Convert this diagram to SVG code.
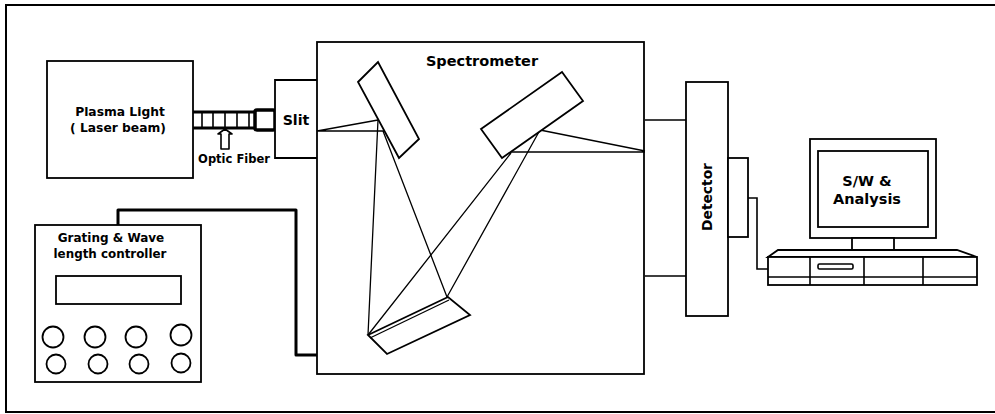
<svg xmlns="http://www.w3.org/2000/svg" width="995" height="414" viewBox="0 0 995 414">
  <style>
    .box { fill: #fff; stroke: #000; stroke-width: 1.8; }
    .ln { fill: none; stroke: #000; stroke-width: 1.6; }
    .ray { fill: none; stroke: #000; stroke-width: 1.3; }
    .thick { fill: none; stroke: #000; stroke-width: 3; stroke-linejoin: round; }
    .lbl { font-family: "DejaVu Sans", "Liberation Sans", sans-serif; font-weight: bold; fill: #000; text-anchor: middle; }
  </style>
  <rect width="995" height="414" fill="#fff"/>
  <!-- outer frame -->
  <rect x="6" y="5" width="1000" height="407" fill="none" stroke="#000" stroke-width="2"/>

  <g id="connectors">
    <!-- optic fiber -->
    <line class="thick" x1="193" y1="112" x2="256" y2="112" stroke-width="2.6"/>
    <line class="thick" x1="193" y1="128" x2="256" y2="128" stroke-width="2.6"/>
    <path class="ln" d="M202,112V128M213,112V128M225,112V128M237,112V128M249,112V128"/>
    <rect x="255" y="110" width="20" height="20" rx="2" fill="#fff" stroke="#000" stroke-width="3.5"/>
    <!-- controller to spectrometer -->
    <path class="thick" d="M118,225V210H296V355H318"/>
    <!-- spectrometer to detector -->
    <path class="ln" d="M645,120H686M645,276H686"/>
    <!-- detector to computer -->
    <path class="ln" d="M748,198H757V269H768"/>
  </g>

  <g id="plasma-light">
    <rect class="box" x="47" y="61" width="146" height="117"/>
    <text class="lbl" x="120" y="116" font-size="12.3">Plasma Light</text>
    <text class="lbl" x="118" y="132" font-size="12.3">( Laser beam)</text>
  </g>

  <g id="optic-fiber-label">
    <path class="ln" stroke-width="1.4" stroke-linejoin="round" d="M225,129L232,134H229V149H221V134H218Z" fill="#fff"/>
    <text class="lbl" x="234" y="163" font-size="11.5">Optic Fiber</text>
  </g>

  <g id="slit">
    <path class="box" d="M317,80H275V158H317"/>
    <text class="lbl" x="296" y="125" font-size="14.2">Slit</text>
  </g>

  <g id="spectrometer">
    <rect class="box" x="317" y="42" width="327" height="332"/>
    <text class="lbl" x="482" y="66" font-size="14.5">Spectrometer</text>
    <!-- beam path -->
    <path class="ray" d="M317,131L378,120M317,131L384,131"/>
    <path class="ray" d="M378,120L368,335M383,131L447,297"/>
    <path class="ray" d="M368,335L511,153M447,297L540,130"/>
    <path class="ray" d="M540,130L645,151M511,152L645,152"/>
    <!-- collimating mirror -->
    <polygon class="box" points="358,82 378,62 419,139 399,158"/>
    <!-- focusing mirror -->
    <polygon class="box" points="481,129 562,72 583,101 502,158"/>
    <!-- grating -->
    <polygon class="box" stroke-width="1.6" points="368,335 448,297 470,315 387,354"/>
    <line class="ray" x1="370" y1="338" x2="449" y2="300"/>
  </g>

  <g id="detector">
    <rect class="box" x="686" y="82" width="42" height="234"/>
    <text class="lbl" font-size="13.8" transform="translate(712,197) rotate(-90)">Detector</text>
    <rect class="box" x="728" y="158" width="20" height="79"/>
  </g>

  <g id="controller">
    <rect class="box" x="35" y="225" width="166" height="157"/>
    <text class="lbl" x="111" y="242" font-size="12">Grating &amp; Wave</text>
    <text class="lbl" x="110" y="258" font-size="11.9">length controller</text>
    <rect class="box" x="56" y="276" width="125" height="28"/>
    <g class="box" stroke-width="1.6">
      <circle cx="53" cy="337" r="10.5"/>
      <circle cx="95" cy="337" r="10.5"/>
      <circle cx="136" cy="337" r="10.5"/>
      <circle cx="181" cy="335" r="10.5"/>
      <circle cx="56" cy="364" r="9.5"/>
      <circle cx="98" cy="364" r="9.5"/>
      <circle cx="139" cy="364" r="9.5"/>
      <circle cx="181" cy="363" r="9.5"/>
    </g>
  </g>

  <g id="computer">
    <rect class="box" x="810" y="139" width="126" height="99"/>
    <rect class="box" x="818" y="151" width="110" height="76"/>
    <text class="lbl" x="867" y="186" font-size="14.5">S/W &amp;</text>
    <text class="lbl" x="867" y="204" font-size="14.5">Analysis</text>
    <rect class="box" x="852" y="238" width="42" height="12"/>
    <path class="box" d="M768,257L778,250H957L977,257Z"/>
    <rect class="box" x="768" y="257" width="209" height="28"/>
    <path class="ln" d="M768,277H977M810,257V285M864,257V285M923,257V285"/>
    <rect class="ln" x="818" y="264" width="35" height="5" rx="1.5"/>
  </g>
</svg>
